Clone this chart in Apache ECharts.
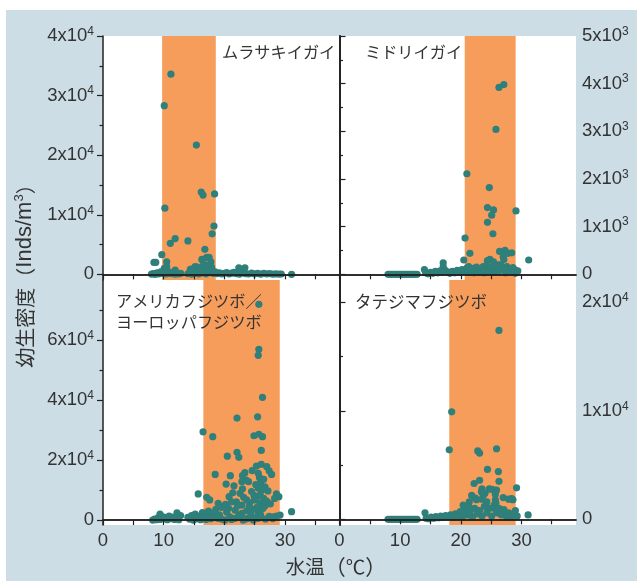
<!DOCTYPE html>
<html>
<head>
<meta charset="utf-8">
<script src="https://cdn.jsdelivr.net/npm/echarts@6/dist/echarts.min.js"></script>
<style>
  html, body { margin: 0; padding: 0; }
  #chart { width: 637px; height: 581px; }
</style>
</head>
<body>
<div id="chart"></div>
<script>
// 水温の目盛り
const xMajor = [0, 10, 20, 30];
const xTicks = [0, 5, 10, 15, 20, 25, 30, 35];

// 各種の出現水温帯（℃）
const murasakiBand = [9.75, 18.6];
const midoriBand = [20.65, 29.05];
const amerikaBand = [16.55, 29.15];
const tatejimaBand = [18.1, 29.05];

// y軸の目盛り
const murasakiMajor = [0, 10000, 20000, 30000, 40000];
const murasakiMinor = [5000, 15000, 25000, 35000];
const midoriMajor = [0, 1000, 2000, 3000, 4000, 5000];
const midoriMinor = [500, 1500, 2500, 3500, 4500];
const amerikaMajor = [0, 20000, 40000, 60000];
const amerikaMinor = [10000, 30000, 50000, 70000];
const tatejimaMajor = [0, 10000, 20000];
const tatejimaMinor = [5000, 15000];

// [水温, 幼生密度]
const murasakiPts = [
  [11.2, 33600], [10.1, 28300], [15.4, 21700], [16.2, 13800], [16.5, 13300], [18.4, 13500],
  [10.2, 11100], [18.3, 8100], [18.0, 6800], [11.9, 6000], [11.1, 5200], [14.0, 5600],
  [16.8, 4200], [9.7, 3300], [8.4, 2000], [8.7, 2000], [10.5, 2100], [16.3, 2500], [17.1, 2850],
  [17.5, 2850], [17.8, 2100], [16.6, 1700], [10.5, 1300], [10.1, 1000], [11.9, 700], [14.4, 850],
  [15.2, 1300], [16.1, 1000], [14.6, 900], [15.6, 1200], [17.3, 1500], [17.9, 1200],
  [22.4, 1100], [23.4, 1100], [31.1, 0],
  [8.0, 50], [8.3, 120], [8.6, 0], [8.9, 250], [9.2, 80], [9.5, 400], [9.8, 150], [10.1, 300],
  [10.4, 60], [10.7, 500], [11.0, 200], [11.3, 100], [11.6, 350], [11.9, 30], [12.2, 220],
  [12.5, 80], [12.8, 150],
  [14.0, 100], [14.3, 350], [14.6, 40], [14.9, 600], [15.2, 200], [15.5, 450], [15.8, 90],
  [16.1, 700], [16.4, 250], [16.7, 500], [17.0, 80], [17.3, 650], [17.6, 300], [17.9, 800],
  [18.2, 150], [18.5, 400], [18.8, 120], [19.2, 250], [19.6, 60], [20.0, 180], [20.4, 300],
  [20.8, 80], [21.2, 200], [21.6, 350], [22.0, 100], [22.5, 40], [23.0, 250], [23.5, 120],
  [24.0, 60], [24.5, 200], [25.0, 80], [25.5, 150], [26.0, 30], [26.5, 180], [27.0, 70],
  [27.5, 120], [28.0, 40], [28.5, 90], [29.0, 30], [29.4, 60]
];

const midoriPts = [
  [27.1, 3980], [26.3, 3920], [25.8, 3040], [21.0, 2110], [24.7, 1820], [24.4, 1400],
  [25.4, 1350], [25.1, 1240], [29.1, 1330], [24.4, 1090], [25.3, 850], [20.7, 760],
  [21.5, 440], [20.5, 300], [26.4, 480], [27.3, 500], [27.8, 440], [28.4, 450], [27.0, 370],
  [27.1, 310], [31.2, 300], [17.1, 240], [17.1, 160], [14.0, 100],
  [24.4, 285], [24.8, 315], [25.4, 260], [26.2, 200], [27.6, 160], [29.0, 90], [21.3, 160],
  [22.1, 125], [22.9, 90], [23.7, 160],
  [8.0, 0], [8.3, 0], [8.6, 0], [8.9, 0], [9.2, 0], [9.5, 0], [9.8, 0], [10.1, 0], [10.4, 0],
  [10.7, 0], [11.0, 0], [11.3, 0], [11.6, 0], [11.9, 0], [12.2, 0], [12.5, 0], [12.8, 0],
  [14.2, 30], [14.6, 10], [15.0, 40], [15.4, 20], [15.8, 60], [16.2, 30], [16.6, 70], [17.0, 40],
  [17.4, 90], [17.8, 50], [18.2, 20], [18.6, 60], [19.0, 30], [19.4, 80], [19.8, 40], [20.2, 100],
  [20.6, 60], [21.0, 130], [21.4, 40], [21.8, 90], [22.2, 30], [22.6, 150], [23.0, 50],
  [23.4, 110], [23.8, 30], [24.2, 180], [24.6, 70], [25.0, 140], [25.4, 40], [25.8, 120],
  [26.2, 60], [26.6, 200], [27.0, 90], [27.4, 30], [27.8, 110], [28.2, 60], [28.6, 140],
  [29.0, 20], [29.4, 70]
];

const amerikaPts = [
  [25.7, 71900], [25.7, 56900], [25.6, 54900], [26.3, 40900], [22.1, 34000], [25.5, 34400],
  [16.5, 29400], [18.1, 27800], [24.9, 28100], [25.7, 28600], [26.3, 27800], [26.1, 23200],
  [22.1, 22600], [22.4, 20900], [20.5, 21300], [18.5, 15200], [21.0, 14800], [23.4, 15800],
  [23.0, 14800], [25.3, 18000], [26.1, 18600], [27.0, 17800], [27.4, 16400], [27.8, 15200],
  [25.6, 15600], [23.6, 13300], [24.0, 12800], [22.9, 12800], [20.3, 12000], [21.6, 11400],
  [25.6, 10600], [26.2, 10000], [26.7, 11100], [27.2, 9700], [15.7, 8700], [21.4, 9100],
  [20.8, 7800], [22.6, 8900], [23.7, 6700], [28.6, 8700], [29.0, 7800], [28.3, 7200],
  [17.1, 7600], [17.6, 6700], [19.0, 5600], [19.6, 4200], [18.6, 3600], [22.0, 6100],
  [22.9, 5000], [24.2, 5800], [25.0, 6700], [25.9, 5600], [26.7, 4700], [20.7, 3900],
  [21.8, 3300], [22.9, 2200], [23.7, 3100], [24.8, 3600], [25.6, 2800], [26.4, 3900],
  [24.5, 9500], [24.9, 8200], [25.3, 7400], [25.9, 8400], [26.5, 7200], [27.0, 6300],
  [27.6, 5400], [23.2, 7600], [24.1, 4500], [25.4, 4200], [26.0, 12500], [25.8, 14200],
  [26.5, 13600], [24.6, 16500], [25.2, 11800], [23.0, 10400], [22.2, 4800], [21.2, 6100],
  [20.2, 5200],
  [15.2, 1100], [16.0, 570], [17.1, 1670], [17.9, 1100], [19.0, 570], [20.1, 0], [20.9, 1100],
  [21.8, 570], [23.1, 0], [23.9, 570], [24.8, 0], [25.6, 570], [28.1, 1100], [28.6, 1330],
  [29.2, 1670], [31.1, 2800], [12.2, 2400], [9.4, 2000],
  [8.2, 0], [8.5, 300], [8.8, 100], [9.1, 800], [9.4, 200], [9.7, 1200], [10.0, 400], [10.3, 900],
  [10.6, 100], [10.9, 1300], [11.2, 500], [11.5, 1000], [11.8, 200], [12.1, 700], [12.5, 100],
  [12.8, 1500], [14.0, 900], [14.3, 300], [14.6, 1500], [14.9, 0], [15.2, 2000], [15.5, 400],
  [15.8, 1200], [16.1, 100], [16.4, 2500], [16.7, 600], [17.0, 200], [17.4, 3000], [17.8, 400],
  [18.2, 2300], [18.6, 800], [19.2, 1700], [19.6, 300], [20.4, 2600], [21.2, 200], [22.4, 1500],
  [23.5, 300], [24.4, 2000], [25.2, 800], [26.0, 1700], [26.8, 300], [27.4, 1200], [28.0, 500]
];

const tatejimaPts = [
  [26.3, 17400], [18.5, 9900], [18.1, 6400], [22.8, 6300], [23.1, 6100], [25.9, 6500],
  [24.4, 4600], [26.2, 4400], [26.3, 3500], [22.2, 3300], [23.1, 3600], [29.2, 2900],
  [23.5, 2800], [24.7, 2800], [25.5, 2700], [25.1, 2750], [25.9, 2700], [23.4, 2550],
  [24.0, 2400], [21.8, 2200], [22.6, 1800], [23.7, 2200], [25.7, 1800], [27.0, 2000],
  [28.4, 1900], [21.4, 1600], [20.4, 1300], [22.4, 1950], [23.5, 1850], [24.3, 1600],
  [27.9, 1850], [28.6, 1800], [21.4, 1100], [25.7, 2300], [25.8, 1500], [25.6, 1000],
  [26.0, 600], [31.1, 400], [14.1, 600],
  [8.0, 0], [8.3, 0], [8.6, 0], [8.9, 0], [9.2, 0], [9.5, 0], [9.8, 0], [10.1, 0], [10.4, 0],
  [10.7, 0], [11.0, 0], [11.3, 0], [11.6, 0], [11.9, 0], [12.2, 0], [12.5, 0], [12.8, 0],
  [14.3, 100], [14.7, 50], [15.1, 200], [15.5, 100], [15.9, 250], [16.3, 150], [16.7, 300],
  [17.1, 200], [17.5, 350], [17.9, 250], [18.3, 400], [18.7, 200], [19.1, 500], [19.5, 300],
  [19.9, 700], [20.3, 250], [20.7, 900], [21.1, 400], [21.5, 600], [21.9, 200], [22.3, 1000],
  [22.7, 500], [23.1, 800], [23.5, 300], [23.9, 1200], [24.3, 600], [24.7, 1000], [25.1, 300],
  [25.5, 1300], [25.9, 700], [26.3, 1000], [26.7, 400], [27.1, 900], [27.5, 300], [27.9, 600],
  [28.3, 200], [28.7, 500], [29.0, 800], [29.3, 300]
];

const bandColor = '#f79d5c';
const dotColor = '#2f7f7b';
const lineColor = '#222';
const textColor = '#333';
const numFont = "'Liberation Sans', Arial, sans-serif";
const jpFont = "'Noto Sans CJK JP', sans-serif";

const panels = [
  { pts: murasakiPts, band: murasakiBand, min: -950, max: 40000, major: murasakiMajor, minor: murasakiMinor, exp: 4, side: 'left', bottom: false,
    grid: { left: 103, top: 36, width: 236.5, height: 244 } },
  { pts: midoriPts, band: midoriBand, min: -120, max: 5000, major: midoriMajor, minor: midoriMinor, exp: 3, side: 'right', bottom: false,
    grid: { left: 339.5, top: 36, width: 236.5, height: 244 } },
  { pts: amerikaPts, band: amerikaBand, min: -1650, max: 80000, major: amerikaMajor, minor: amerikaMinor, exp: 4, side: 'left', bottom: true,
    grid: { left: 103, top: 280, width: 236.5, height: 245 } },
  { pts: tatejimaPts, band: tatejimaBand, min: -525, max: 22050, major: tatejimaMajor, minor: tatejimaMinor, exp: 4, side: 'right', bottom: true,
    grid: { left: 339.5, top: 280, width: 236.5, height: 245 } }
];

const grids = [];
const xAxes = [];
const yAxes = [];
const series = [];

panels.forEach((p, i) => {
  grids.push(Object.assign({ show: true, backgroundColor: '#fff', borderWidth: 0 }, p.grid));

  // 下側の軸（目盛り付き）
  xAxes.push({
    gridIndex: i, type: 'value', position: 'bottom', min: 0, max: 39, z: 4,
    axisLine: { show: true, lineStyle: { color: lineColor, width: 1.5 } },
    axisTick: { show: true, inside: false, length: 5, customValues: xTicks, lineStyle: { color: lineColor, width: 1.2 } },
    axisLabel: { show: p.bottom, customValues: xMajor, margin: 6, fontSize: 18.5, color: textColor, fontFamily: numFont },
    splitLine: { show: false }
  });
  // 上側の枠線
  xAxes.push({
    gridIndex: i, type: 'value', position: 'top', min: 0, max: 39, z: 4,
    axisLine: { show: true, lineStyle: { color: lineColor, width: 1.5 } },
    axisTick: { show: false }, axisLabel: { show: false }, splitLine: { show: false }
  });

  const other = p.side === 'left' ? 'right' : 'left';
  yAxes.push({
    gridIndex: i, type: 'value', position: p.side, min: p.min, max: p.max, z: 4,
    axisLine: { show: true, lineStyle: { color: lineColor, width: 1.5 } },
    axisTick: { show: true, inside: false, length: 6, customValues: p.major, lineStyle: { color: lineColor, width: 1.2 } },
    axisLabel: {
      customValues: p.major, margin: p.side === 'left' ? 9 : 6,
      fontSize: 18.5, lineHeight: 21, color: textColor, fontFamily: numFont,
      formatter: v => v === 0 ? '0' : Math.round(v / Math.pow(10, p.exp)) + 'x10{sup|' + p.exp + '}',
      rich: { sup: { fontSize: 12, lineHeight: 14, verticalAlign: 'top', color: textColor, fontFamily: numFont } }
    },
    splitLine: { show: false }
  });
  yAxes.push({
    gridIndex: i, type: 'value', position: p.side, min: p.min, max: p.max, z: 4,
    axisLine: { show: false },
    axisTick: { show: true, inside: false, length: 3.5, customValues: p.minor, lineStyle: { color: lineColor, width: 1.2 } },
    axisLabel: { show: false }, splitLine: { show: false }
  });
  yAxes.push({
    gridIndex: i, type: 'value', position: other, min: p.min, max: p.max, z: 4,
    axisLine: { show: true, lineStyle: { color: lineColor, width: 1.5 } },
    axisTick: { show: false }, axisLabel: { show: false }, splitLine: { show: false }
  });

  series.push({
    type: 'scatter', xAxisIndex: i * 2, yAxisIndex: i * 3, data: [], z: 1, silent: true,
    markArea: {
      silent: true,
      itemStyle: { color: bandColor, opacity: 1 },
      data: [[{ xAxis: p.band[0] }, { xAxis: p.band[1] }]]
    }
  });
  series.push({
    type: 'scatter', xAxisIndex: i * 2, yAxisIndex: i * 3, data: p.pts, z: 3,
    symbolSize: 7.2, itemStyle: { color: dotColor, opacity: 1 }
  });
});

const chart = echarts.init(document.getElementById('chart'));
chart.setOption({
  backgroundColor: '#ccdde5',
  animation: false,
  grid: grids,
  xAxis: xAxes,
  yAxis: yAxes,
  series: series,
  graphic: [
    { type: 'rect', shape: { x: 0, y: 0, width: 637, height: 10 }, style: { fill: '#fff' }, silent: true },
    { type: 'rect', shape: { x: 0, y: 0, width: 6, height: 581 }, style: { fill: '#fff' }, silent: true },
    { type: 'text', x: 222, y: 52, z: 10, style: { text: 'ムラサキイガイ', fontSize: 16.2, fontFamily: jpFont, fill: textColor, verticalAlign: 'middle' } },
    { type: 'text', x: 365, y: 52, z: 10, style: { text: 'ミドリイガイ', fontSize: 16.2, fontFamily: jpFont, fill: textColor, verticalAlign: 'middle' } },
    { type: 'text', x: 116, y: 290, z: 10, style: { text: 'アメリカフジツボ／\nヨーロッパフジツボ', fontSize: 16.2, lineHeight: 21, fontFamily: jpFont, fill: textColor, verticalAlign: 'top' } },
    { type: 'text', x: 355, y: 302, z: 10, style: { text: 'タテジマフジツボ', fontSize: 16.5, fontFamily: jpFont, fill: textColor, verticalAlign: 'middle' } },
    { type: 'text', x: 336, y: 567, z: 10,
      style: {
        text: '{jp|水温}{pa|（}{jp|℃}{pa|）}', fill: textColor, align: 'center', verticalAlign: 'middle',
        rich: {
          jp: { fontSize: 19.5, fontFamily: jpFont, fill: textColor },
          pa: { fontSize: 21, fontFamily: jpFont, fill: textColor }
        }
      } },
    { type: 'text', x: 25, y: 271, z: 10, rotation: Math.PI / 2,
      style: {
        text: '{jp|幼生密度（}{en|Inds/m}{sup|3}{jp|）}', fill: textColor,
        align: 'center', verticalAlign: 'middle',
        rich: {
          jp: { fontSize: 20, lineHeight: 24, fontFamily: jpFont, fill: textColor },
          en: { fontSize: 22, lineHeight: 24, fontFamily: numFont, fill: textColor },
          sup: { fontSize: 13, lineHeight: 16, verticalAlign: 'top', fill: textColor, fontFamily: numFont }
        }
      } }
  ]
});
</script>
</body>
</html>
